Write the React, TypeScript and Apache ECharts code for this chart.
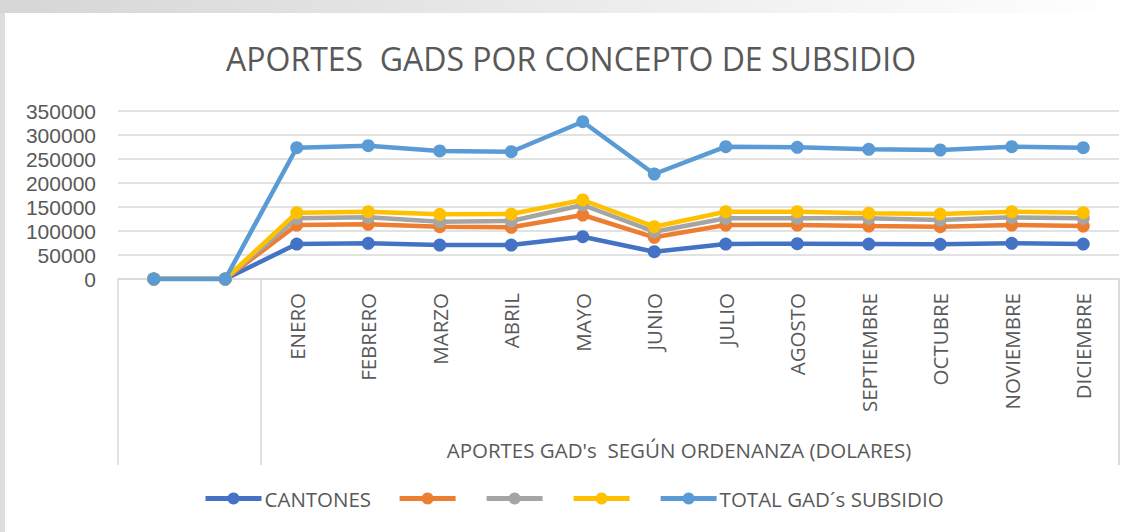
import React, { useEffect, useRef } from "react";
import * as echarts from "echarts";

const categories = ["", "", "ENERO", "FEBRERO", "MARZO", "ABRIL", "MAYO", "JUNIO", "JULIO", "AGOSTO", "SEPTIEMBRE", "OCTUBRE", "NOVIEMBRE", "DICIEMBRE"];
const groupLabel = "APORTES GAD's  SEGÚN ORDENANZA (DOLARES)";
const titleText = "APORTES  GADS POR CONCEPTO DE SUBSIDIO";
const yTicks = { min: 0, max: 350000, interval: 50000 };

const seriesNames = ["CANTONES", "S2", "S3", "S4", "TOTAL GAD´s SUBSIDIO"];
const legendLabels = ["CANTONES", "", "", "", "TOTAL GAD´s SUBSIDIO"];
const seriesColors = ["#4472C4", "#ED7D31", "#A5A5A5", "#FFC000", "#5B9BD5"];

const cantones = [0, 0, 72900, 74400, 70800, 70800, 88100, 56900, 72900, 73500, 72900, 72300, 74400, 72900];
const serie2 = [0, 0, 112500, 114000, 109000, 107700, 133300, 86900, 112500, 112500, 110400, 109000, 112500, 110400];
const serie3 = [0, 0, 126400, 128500, 119400, 120800, 154200, 98500, 126400, 126400, 126400, 122900, 128500, 126400];
const serie4 = [0, 0, 138100, 140200, 134800, 135400, 164600, 109000, 140200, 140200, 136900, 135400, 140200, 138100];
const total = [0, 0, 273500, 277700, 266700, 265200, 327700, 218750, 275600, 274400, 270200, 268750, 275600, 273500];

const allData = [cantones, serie2, serie3, serie4, total];

export default function App() {
  const ref = useRef<HTMLDivElement>(null);
  useEffect(() => {
    document.body.style.margin = "0";
    if (!ref.current) return;
    const chart = echarts.init(ref.current, undefined, { renderer: "svg" });
    const font = "'Open Sans', sans-serif";
    const option: any = {
      animation: false,
      backgroundColor: "#ffffff",
      title: {
        text: titleText,
        left: 216,
        top: 24,
        textStyle: { fontFamily: font, fontSize: 32, fontWeight: "normal", color: "#595959" },
      },
      grid: { left: 113, right: 7, top: 98, bottom: 253, containLabel: false },
      legend: {
        bottom: 18,
        left: 193,
        itemWidth: 56,
        itemHeight: 15,
        itemGap: 26,
        data: seriesNames,
        lineStyle: { width: 5 },
        formatter: (n: string) => legendLabels[seriesNames.indexOf(n)],
        textStyle: { fontFamily: font, fontSize: 20.5, color: "#595959", padding: [0, 0, 0, -2] },
      },
      xAxis: {
        type: "category",
        data: categories,
        boundaryGap: true,
        axisLine: { lineStyle: { color: "#d9d9d9", width: 1.5 } },
        axisTick: {
          show: true,
          length: 186,
          interval: (i: number) => i === 0 || i === 2 || i === 14,
          lineStyle: { color: "#d9d9d9", width: 1.5 },
        },
        axisLabel: {
          rotate: 90,
          interval: 0,
          margin: 14,
          fontFamily: font,
          fontSize: 20.5,
          color: "#595959",
        },
      },
      yAxis: {
        type: "value",
        min: yTicks.min,
        max: yTicks.max,
        interval: yTicks.interval,
        axisLine: { show: false },
        axisTick: { show: false },
        splitLine: { lineStyle: { color: "#d9d9d9", width: 1.5 } },
        axisLabel: {
          margin: 22,
          fontFamily: "'Liberation Sans', Arial, sans-serif",
          fontSize: 21,
          lineHeight: 21,
          color: "#595959",
          formatter: (v: number) => String(v),
        },
      },
      series: seriesNames.map((n, i) => ({
        name: n,
        type: "line",
        data: allData[i],
        symbol: "circle",
        symbolSize: 13,
        color: seriesColors[i],
        lineStyle: { width: 4.5, color: seriesColors[i] },
        itemStyle: { color: seriesColors[i] },
        z: 2 + i,
      })),
    };
    chart.setOption(option);
    const xa = chart.convertToPixel({ xAxisIndex: 0 }, "ENERO") as number;
    const xb = chart.convertToPixel({ xAxisIndex: 0 }, "DICIEMBRE") as number;
    const y0 = chart.convertToPixel({ yAxisIndex: 0 }, 0) as number;
    const step = (xb - xa) / 11;
    const x1 = xb + step / 2;
    chart.setOption({
      graphic: [
        {
          type: "text",
          x: (xa + xb) / 2 - 11,
          y: y0 + 171,
          style: {
            text: groupLabel,
            fontFamily: font,
            fontSize: 20.5,
            fill: "#595959",
            textAlign: "center",
            textVerticalAlign: "middle",
          },
        },
        {
          type: "line",
          shape: { x1: x1, y1: y0, x2: x1, y2: y0 + 186 },
          style: { stroke: "#d9d9d9", lineWidth: 1.5 },
        },
      ],
    });
    return () => chart.dispose();
  }, []);
  return (
    <div
      style={{
        position: "relative",
        width: 1126,
        height: 532,
        background: "linear-gradient(90deg, #d6d6d6 0%, #e6e6e6 40%, #f7f7f7 80%, #ffffff 100%)",
        overflow: "hidden",
      }}
    >
      <div style={{ position: "absolute", left: 0, top: 13, width: 5, height: 519, background: "#dedede" }} />
      <div ref={ref} style={{ position: "absolute", left: 5, top: 13, width: 1121, height: 519 }} />
    </div>
  );
}
